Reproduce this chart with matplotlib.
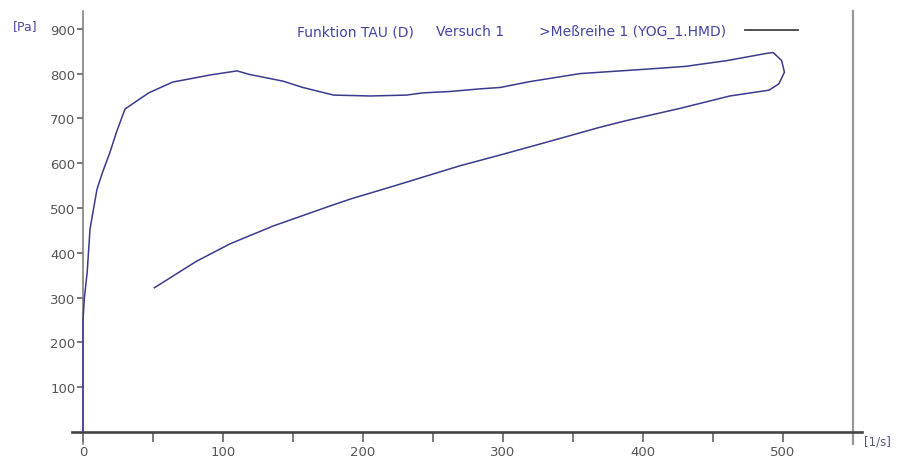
import numpy as np
import matplotlib
matplotlib.use("Agg")
from matplotlib import pyplot as plt
from matplotlib.ticker import MultipleLocator

# Messkurve: Schubspannung TAU ueber Schergeschwindigkeit D (Hin- und Rueckweg)
shear_rate = [0, 0, 0, 1, 3, 5, 10, 14, 19, 24, 30, 47, 64, 91, 110, 119,
              143, 157, 179, 205, 231, 243, 262, 284, 298, 319, 355, 403,
              430, 460, 488, 493, 499, 501, 497, 490, 462, 426, 388, 369,
              329, 300, 269, 222, 191, 176, 136, 105, 81, 51]
stress = [0, 170, 250, 300, 357, 453, 542, 580, 622, 670, 721, 757, 781,
          797, 806, 798, 783, 769, 752, 750, 752, 757, 760, 766, 769, 782,
          800, 810, 816, 829, 845, 847, 829, 803, 777, 763, 750, 722, 695,
          680, 645, 620, 594, 549, 520, 504, 460, 420, 381, 322]

x_ticks = [0, 100, 200, 300, 400, 500]
y_ticks = [100, 200, 300, 400, 500, 600, 700, 800, 900]
legend_parts = ["Funktion TAU (D)", "Versuch 1", ">Meßreihe 1 (YOG_1.HMD)"]

plt.rcParams['font.family'] = ['DejaVu Sans']

fig = plt.figure(figsize=(8.99, 4.64), dpi=100)
ax = fig.add_axes([72/899, 19/464, 790/899, 433/464])

curve_col = '#3a3a8e'
ax.plot(shear_rate, stress, color=curve_col, lw=1.1, zorder=3)

ax.set_xlim(-7.86, 556.4)
ax.set_ylim(-26.8, 939.7)

# Achsen wie im Original: Kreuz im Nullpunkt, rechte Begrenzung bei 550
ax.spines['top'].set_visible(False)
ax.spines['left'].set_position(('data', 0))
ax.spines['bottom'].set_position(('data', 0))
ax.spines['right'].set_position(('data', 550))
ax.spines['left'].set_color('#777777')
ax.spines['left'].set_linewidth(1.1)
ax.spines['bottom'].set_color('#444444')
ax.spines['bottom'].set_linewidth(1.9)
ax.spines['right'].set_color('#999999')
ax.spines['right'].set_linewidth(1.6)

ax.yaxis.set_ticks_position('left')
ax.xaxis.set_ticks_position('bottom')
ax.set_xticks(x_ticks)
ax.set_yticks(y_ticks)
ax.xaxis.set_minor_locator(MultipleLocator(50))
ax.tick_params(axis='x', which='both', direction='out', length=7,
               width=1.1, color='#555555', labelcolor='#555555',
               labelsize=9.5, pad=2.5)
ax.tick_params(axis='y', direction='out', length=4.5, width=1.1,
               color='#555555', labelcolor='#555555', labelsize=9.5, pad=1)

ax.text(-50, 908, "[Pa]", color='#4a4aa0', fontsize=9, ha='left',
        va='center', clip_on=False)
ax.text(558, -20, "[1/s]", color='#555577', fontsize=8.5, ha='left',
        va='center', clip_on=False)

for xpos, part in zip([153, 252, 326], legend_parts):
    ax.text(xpos, 895, part, color='#4545a0', fontsize=10,
            ha='left', va='center')
ax.plot([473, 511], [897, 897], color='#444444', lw=1.3)

fig.savefig('out.png', dpi=100)
